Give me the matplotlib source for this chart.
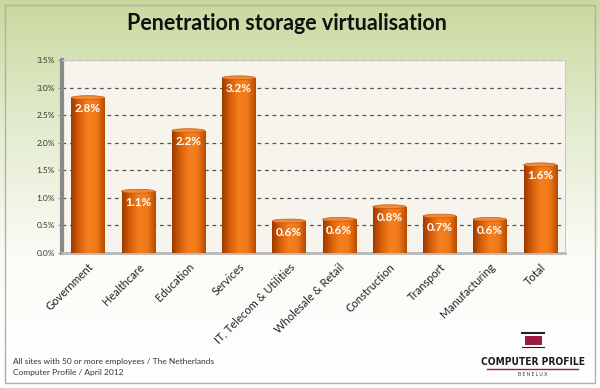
import numpy as np
import matplotlib.pyplot as plt
from matplotlib.patches import Rectangle, Ellipse
from matplotlib.colors import LinearSegmentedColormap

categories = ['Government', 'Healthcare', 'Education', 'Services',
              'IT, Telecom & Utilities', 'Wholesale & Retail', 'Construction',
              'Transport', 'Manufacturing', 'Total']
values = [2.82, 1.12, 2.22, 3.18, 0.58, 0.61, 0.84, 0.67, 0.61, 1.60]
yticks = [0.0, 0.5, 1.0, 1.5, 2.0, 2.5, 3.0, 3.5]
title = 'Penetration storage virtualisation'
footer = ['All sites with 50 or more employees / The Netherlands',
          'Computer Profile / April 2012']

plt.rcParams['font.family'] = ['Lato', 'DejaVu Sans']

fig = plt.figure(figsize=(6.0, 3.88), dpi=100)

# background gradient (green at top, fading to white)
bg = fig.add_axes([0, 0, 1, 1], zorder=-10)
grad = np.linspace(0, 1, 256).reshape(-1, 1)
bg_cmap = LinearSegmentedColormap.from_list('bg', ['#c8d99e', '#e4ecd0', '#fbfcf7', '#ffffff'])
bg.imshow(grad, aspect='auto', cmap=bg_cmap, extent=[0, 1, 0, 1], origin='upper')
bg.add_patch(Rectangle((0.008, 0.012), 0.984, 0.976, fill=False, ec='#b0b0b0', lw=1.0))
bg.set_xlim(0, 1)
bg.set_ylim(0, 1)
bg.axis('off')

fig.text(0.478, 0.94, title, ha='center', va='center', fontsize=15.5, fontweight='bold', color='#111111')

ax = fig.add_axes([0.103, 0.348, 0.839, 0.497])
ax.set_facecolor('#f6f4ec')
x = np.arange(len(categories))
bars = ax.bar(x, values, width=0.66, color='#e06a10', zorder=3)

# cylinder-like shading: horizontal gradient clipped to each bar + top ellipse
bar_cmap = LinearSegmentedColormap.from_list('bar', ['#9c3a00', '#d85f0a', '#f5801e', '#f07a1a', '#b84a00'])
hgrad = np.linspace(0, 1, 128).reshape(1, -1)
for b, v in zip(bars, values):
    im = ax.imshow(hgrad, aspect='auto', cmap=bar_cmap,
                   extent=[b.get_x(), b.get_x() + b.get_width(), 0, v], zorder=4)
    im.set_clip_path(b)
    ax.add_patch(Ellipse((b.get_x() + b.get_width() / 2, v), b.get_width(), 0.07,
                         fc='#f08a35', ec='#c85a10', lw=0.5, zorder=5))
    ax.text(b.get_x() + b.get_width() / 2, v - 0.2, f'{v:.1f}%', ha='center', va='center',
            color='white', fontsize=8.5, fontweight='bold', zorder=6)

ax.set_xlim(-0.52, 9.5)
ax.set_ylim(0, 3.5)
ax.set_yticks(yticks)
ax.set_yticklabels([f'{t:.1f}%' for t in yticks], fontsize=6, color='#333333')
ax.set_xticks(x)
ax.set_xticklabels(categories, rotation=45, ha='right', rotation_mode='anchor',
                   fontsize=8, color='#222222')
ax.tick_params(axis='x', length=0, pad=6)
ax.tick_params(axis='y', length=3, color='#999999', pad=2)
ax.grid(axis='y', linestyle=(0, (3, 3)), color='#555555', lw=0.9, zorder=1)
ax.set_axisbelow(True)
for s in ['top', 'right']:
    ax.spines[s].set_color('#c8c8c8')
    ax.spines[s].set_linewidth(0.8)
ax.spines['left'].set_color('#8a8a8a')
ax.spines['left'].set_linewidth(3)
ax.spines['bottom'].set_color('#b8b8b8')
ax.spines['bottom'].set_linewidth(2)

fig.text(0.022, 0.068, footer[0], fontsize=6, color='#333333', va='center')
fig.text(0.022, 0.039, footer[1], fontsize=6, color='#333333', va='center')

# logo
bg.add_patch(Rectangle((0.875, 0.111), 0.028, 0.023, fc='#9b1b40', ec='none'))
bg.plot([0.870, 0.906], [0.142, 0.142], color='#222222', lw=1.5)
bg.plot([0.870, 0.906], [0.106, 0.106], color='#222222', lw=0.8)
fig.text(0.888, 0.067, 'COMPUTER PROFILE', ha='center', va='center', fontsize=7.3,
         fontweight='bold', fontstretch='condensed', color='#1a1a1a',
         family=['DejaVu Sans'])
bg.plot([0.812, 0.963], [0.049, 0.049], color='#9b1b40', lw=1.0)
fig.text(0.888, 0.034, 'B E N E L U X', ha='center', va='center', fontsize=3.5, color='#333333')

fig.savefig('out.png', dpi=100)
